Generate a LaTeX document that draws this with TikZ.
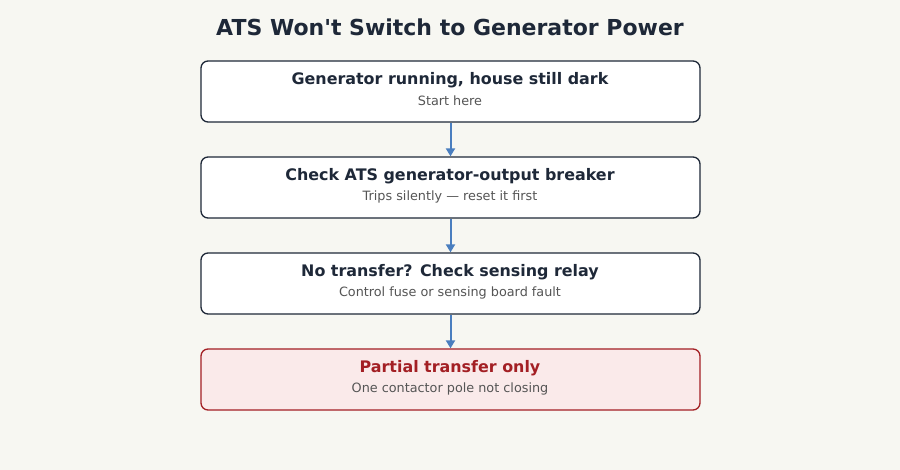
\documentclass[tikz,border=0pt]{standalone}
\usepackage{fontspec}
\setmainfont{DejaVu Sans}[Ligatures=TeXOff]
\usetikzlibrary{arrows.meta}
\definecolor{bg}{HTML}{F7F7F2}
\definecolor{ink}{HTML}{1E2838}
\definecolor{sub}{HTML}{555555}
\definecolor{arr}{HTML}{4A7EBF}
\definecolor{redb}{HTML}{A31F24}
\definecolor{redf}{HTML}{FAEAEA}
\begin{document}
\begin{tikzpicture}[x=1pt,y=-1pt,
 box/.style={draw=ink,line width=1.3pt,fill=white,rounded corners=7pt,minimum width=499pt,minimum height=61pt,inner sep=0pt},
 alert/.style={box,draw=redb,fill=redf},
 ttl/.style={font=\bfseries\fontsize{15.9}{18}\selectfont,text=ink},
 st/.style={font=\fontsize{12.8}{15}\selectfont,text=sub},
 link/.style={draw=arr,line width=2pt,-{Triangle[width=9pt,length=8pt]}}]
\fill[bg] (0,0) rectangle (900,470);
\node[font=\bfseries\fontsize{22}{26}\selectfont,text=ink] (title) at (450,27) {ATS Won't Switch to Generator Power};
\node[box] (b1) at (450.5,91.5) {};
\node[box] (b2) at (450.5,187.5) {};
\node[box] (b3) at (450.5,283.5) {};
\node[alert] (b4) at (450.5,379.5) {};
\node[ttl] (t1) at (450,80.5) {Generator running, house still dark};
\node[st] (s1) at (450,101) {Start here};
\node[ttl] (t2) at (450,176.5) {Check ATS generator-output breaker};
\node[st] (s2) at (450,197) {Trips silently — reset it first};
\node[ttl] (t3) at (450,272.5) {No transfer? Check sensing relay};
\node[st] (s3) at (450,293) {Control fuse or sensing board fault};
\node[ttl,text=redb] (t4) at (450,368.5) {Partial transfer only};
\node[st] (s4) at (450,389) {One contactor pole not closing};
\draw[link] (b1.south) -- (b2.north);
\draw[link] (b2.south) -- (b3.north);
\draw[link] (b3.south) -- (b4.north);
\end{tikzpicture}
\end{document}
